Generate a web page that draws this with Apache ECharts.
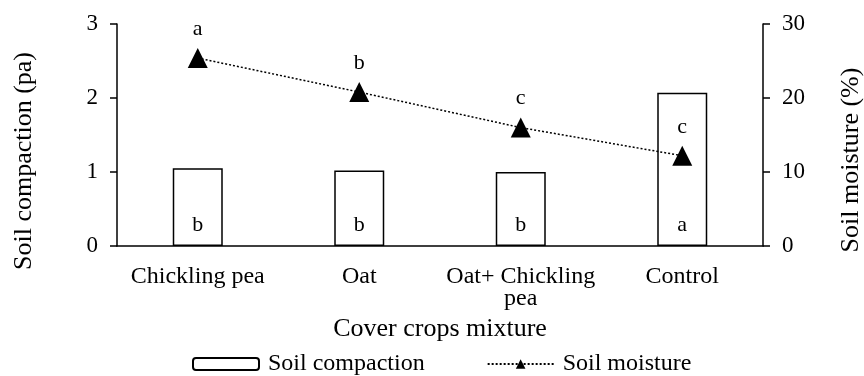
<!DOCTYPE html>
<html>
<head>
<meta charset="utf-8">
<script src="https://cdn.jsdelivr.net/npm/echarts@6/dist/echarts.min.js"></script>
<style>
  html, body { margin: 0; padding: 0; background: #fff; }
  #chart { width: 864px; height: 376px; }
</style>
</head>
<body>
<div id="chart"></div>
<script>
// data
const categories = ['Chickling pea', 'Oat', 'Oat+ Chickling\npea', 'Control'];
const compaction = [1.05, 1.02, 1.0, 2.07];
const compactionLetters = ['b', 'b', 'b', 'a'];
const moisture = [25.4, 20.8, 16.0, 12.2];
const moistureLetters = ['a', 'b', 'c', 'c'];
const leftTicks = [0, 1, 2, 3];
const rightTicks = [0, 10, 20, 30];

const font = 'Liberation Serif';
const black = '#000';

let myChart = echarts.init(document.getElementById('chart'));
myChart.setOption({
  animation: false,
  textStyle: { fontFamily: font, color: black },
  grid: { left: 117, right: 101, top: 24, bottom: 130 },
  legend: {
    top: 352,
    left: 192,
    padding: 0,
    itemWidth: 66,
    itemHeight: 12,
    itemGap: 62,
    textStyle: { fontFamily: font, fontSize: 24, color: black, padding: [0, 0, 0, 4] },
    data: ['Soil compaction', 'Soil moisture']
  },
  xAxis: {
    type: 'category',
    data: categories,
    name: 'Cover crops mixture',
    nameLocation: 'middle',
    nameGap: 70,
    nameTextStyle: { fontFamily: font, fontSize: 26, color: black },
    axisLine: { lineStyle: { color: black, width: 1.5 } },
    axisTick: { length: 7, lineStyle: { color: black, width: 1.5 } },
    axisLabel: { interval: 0, fontFamily: font, fontSize: 24, color: black, lineHeight: 22, margin: 20 }
  },
  yAxis: [
    {
      type: 'value',
      min: leftTicks[0],
      max: leftTicks[leftTicks.length - 1],
      interval: 1,
      splitLine: { show: false },
      axisLine: { show: true, lineStyle: { color: black, width: 1.5 } },
      axisTick: { show: true, length: 7, lineStyle: { color: black, width: 1.5 } },
      axisLabel: { fontFamily: font, fontSize: 23, color: black, margin: 19 }
    },
    {
      type: 'value',
      min: rightTicks[0],
      max: rightTicks[rightTicks.length - 1],
      interval: 10,
      position: 'right',
      splitLine: { show: false },
      axisLine: { show: true, lineStyle: { color: black, width: 1.5 } },
      axisTick: { show: true, length: 7, lineStyle: { color: black, width: 1.5 } },
      axisLabel: { fontFamily: font, fontSize: 23, color: black, margin: 19 }
    }
  ],
  graphic: [
    {
      type: 'text', x: 24, y: 161, rotation: Math.PI / 2,
      style: { text: 'Soil compaction (pa)', font: '26px "Liberation Serif"', fill: black, align: 'center', verticalAlign: 'middle' }
    },
    {
      type: 'text', x: 851, y: 160, rotation: Math.PI / 2,
      style: { text: 'Soil moisture (%)', font: '26px "Liberation Serif"', fill: black, align: 'center', verticalAlign: 'middle' }
    }
  ],
  series: [
    {
      name: 'Soil compaction',
      type: 'bar',
      barWidth: 50,
      data: compaction,
      itemStyle: { color: '#fff', borderColor: black, borderWidth: 1.5 },
      label: {
        show: true,
        position: 'insideBottom',
        distance: 10,
        fontFamily: font,
        fontSize: 22,
        color: black,
        formatter: p => compactionLetters[p.dataIndex]
      }
    },
    {
      name: 'Soil moisture',
      type: 'line',
      yAxisIndex: 1,
      data: moisture,
      symbol: 'triangle',
      symbolSize: 20,
      itemStyle: { color: black },
      lineStyle: { color: black, width: 1.5, type: [2, 2] },
      label: {
        show: true,
        position: 'top',
        distance: 8,
        fontFamily: font,
        fontSize: 22,
        color: black,
        formatter: p => moistureLetters[p.dataIndex]
      }
    }
  ]
});
</script>
</body>
</html>
